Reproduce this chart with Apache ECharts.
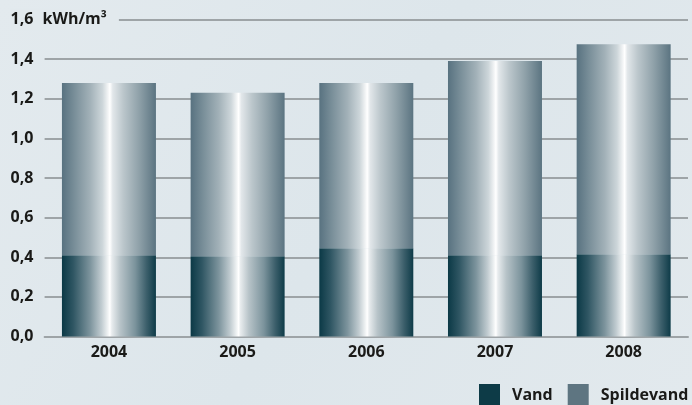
<!DOCTYPE html>
<html>
<head>
<meta charset="utf-8">
<script src="https://cdn.jsdelivr.net/npm/echarts@6/dist/echarts.min.js"></script>
<style>
  html, body { margin: 0; padding: 0; }
  body { background: #e2e9ed; }
  #chart { width: 692px; height: 405px; }
</style>
</head>
<body>
<div id="chart"></div>
<script>
// Energy use per m³, split by drinking water and wastewater
const years = ['2004', '2005', '2006', '2007', '2008'];
const vand = [0.41, 0.405, 0.445, 0.41, 0.415];
const spildevand = [0.87, 0.825, 0.835, 0.98, 1.06];
const seriesNames = ['Vand', 'Spildevand'];
const unitLabel = 'kWh/m³';

const FONT = '"Open Sans", "Noto Sans", sans-serif';
const TEXT = '#1a1a18';
const BG = '#e2e9ed';
const FS = 16;

function metal(stops) {
  return {
    type: 'linear', x: 0, y: 0, x2: 1, y2: 0,
    colorStops: stops.map(s => ({ offset: s[0], color: s[1] }))
  };
}

const vandFill = metal([
  [0, '#0b3946'], [0.12, '#2f5663'], [0.3, '#7d949d'], [0.42, '#c0cbd0'],
  [0.49, '#f0f3f4'], [0.51, '#ffffff'], [0.53, '#e8ecee'], [0.62, '#b7c3c8'],
  [0.78, '#7b939c'], [0.9, '#3c5f6b'], [1, '#0e3b48']
]);
const spildFill = metal([
  [0, '#587280'], [0.15, '#7d929c'], [0.3, '#a2b1b8'], [0.43, '#cdd6da'],
  [0.49, '#f2f4f5'], [0.51, '#ffffff'], [0.54, '#e2e7ea'], [0.65, '#bcc7cc'],
  [0.82, '#8fa1a9'], [1, '#5b7481']
]);

const chart = echarts.init(document.getElementById('chart'), null, { renderer: 'canvas' });

chart.setOption({
  backgroundColor: {
    type: 'linear', x: 0, y: 0, x2: 1, y2: 1,
    colorStops: [
      { offset: 0, color: '#e3eaee' },
      { offset: 0.5, color: '#dde6eb' },
      { offset: 1, color: '#e2e9ed' }
    ]
  },
  animation: false,
  textStyle: { fontFamily: FONT },
  grid: { left: 44.6, right: 4, top: 19.5, bottom: 68.5, containLabel: false },
  legend: {
    left: 479, top: 384, width: 400, padding: 0,
    itemWidth: 21, itemHeight: 22, itemGap: 15,
    icon: 'rect',
    textStyle: { fontFamily: FONT, fontSize: FS, fontWeight: 'bold', color: TEXT, padding: [5, 0, 0, 7] },
    data: [
      { name: seriesNames[0], itemStyle: { color: '#0d3b47' } },
      { name: seriesNames[1], itemStyle: { color: '#5e7581' } }
    ]
  },
  xAxis: {
    type: 'category',
    data: years,
    axisLine: { lineStyle: { color: '#9ea4a7', width: 2 } },
    axisTick: { show: false },
    axisLabel: { margin: 8, fontFamily: FONT, fontSize: FS, fontWeight: 'bold', color: TEXT }
  },
  yAxis: {
    type: 'value',
    min: 0, max: 1.6, interval: 0.2,
    axisLine: { show: false },
    axisTick: { show: false },
    splitLine: { lineStyle: { color: '#9ea4a7', width: 2 } },
    axisLabel: {
      align: 'left',
      margin: 34,
      fontFamily: FONT, fontSize: FS, fontWeight: 'bold', color: TEXT,
      formatter: function (v) {
        const s = v.toFixed(1).replace('.', ',');
        if (Math.abs(v - 1.6) < 1e-9) return '{n|' + s + '}{u|' + unitLabel + '}';
        return s;
      },
      rich: {
        n: { fontFamily: FONT, fontSize: FS, fontWeight: 'bold', color: TEXT,
             backgroundColor: BG, padding: [3, 0, 3, 0], width: 32 },
        u: { fontFamily: FONT, fontSize: FS, fontWeight: 'bold', color: TEXT,
             backgroundColor: BG, padding: [3, 12, 3, 0] }
      }
    }
  },
  series: [
    {
      name: seriesNames[0], type: 'bar', stack: 'total',
      barWidth: 94, data: vand,
      itemStyle: { color: vandFill }
    },
    {
      name: seriesNames[1], type: 'bar', stack: 'total',
      barWidth: 94, data: spildevand,
      itemStyle: { color: spildFill }
    }
  ]
});
</script>
</body>
</html>
